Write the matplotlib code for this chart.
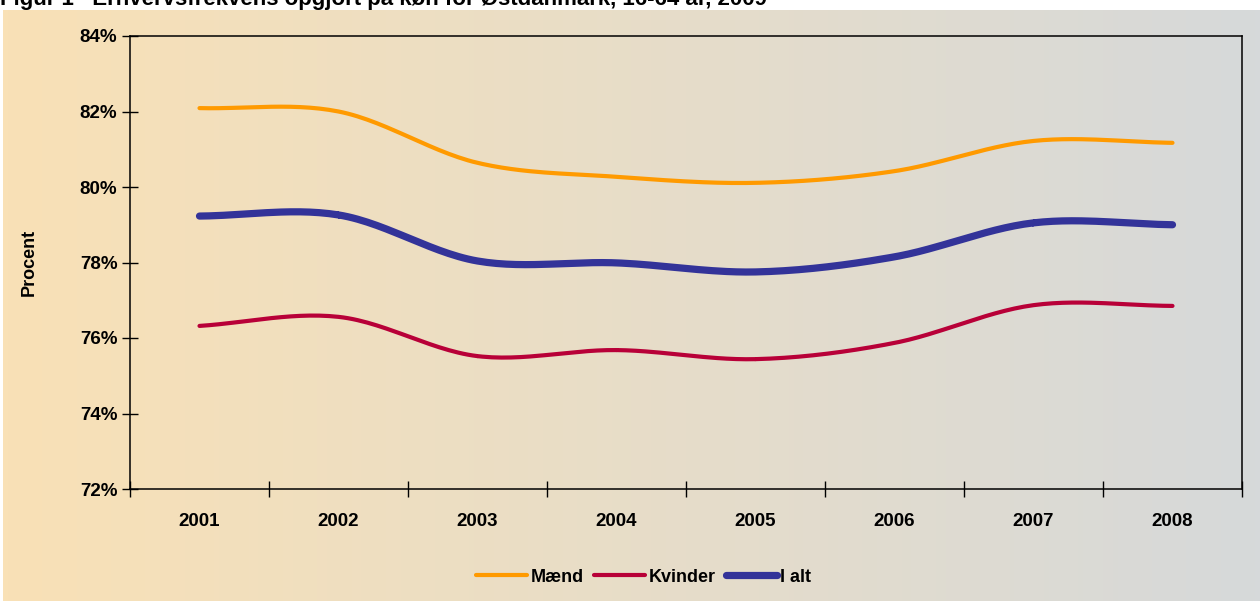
import matplotlib
matplotlib.use("Agg")
import matplotlib.pyplot as plt
import numpy as np

plt.rcParams['font.family'] = ['Liberation Sans', 'DejaVu Sans']
plt.rcParams['font.weight'] = 'bold'

years = ['2001', '2002', '2003', '2004', '2005', '2006', '2007', '2008']
maend = [82.09, 82.0, 80.64, 80.27, 80.11, 80.42, 81.22, 81.17]
kvinder = [76.32, 76.56, 75.52, 75.68, 75.44, 75.87, 76.87, 76.85]
i_alt = [79.23, 79.26, 78.04, 77.99, 77.75, 78.15, 79.05, 79.0]

title = "Figur 1   Erhvervsfrekvens opgjort på køn for Østdanmark, 16-64 år, 2009"


def smooth(x, y, n=30):
    # catmull-rom like excel's smoothed line
    x = np.asarray(x, float)
    y = np.asarray(y, float)
    px = np.concatenate([[2 * x[0] - x[1]], x, [2 * x[-1] - x[-2]]])
    py = np.concatenate([[2 * y[0] - y[1]], y, [2 * y[-1] - y[-2]]])
    xs, ys = [], []
    t = np.linspace(0, 1, n)
    for i in range(1, len(px) - 2):
        p0, p1, p2, p3 = py[i - 1], py[i], py[i + 1], py[i + 2]
        q0, q1, q2, q3 = px[i - 1], px[i], px[i + 1], px[i + 2]
        ys.append(0.5 * ((2 * p1) + (-p0 + p2) * t + (2 * p0 - 5 * p1 + 4 * p2 - p3) * t ** 2
                         + (-p0 + 3 * p1 - 3 * p2 + p3) * t ** 3))
        xs.append(0.5 * ((2 * q1) + (-q0 + q2) * t + (2 * q0 - 5 * q1 + 4 * q2 - q3) * t ** 2
                         + (-q0 + 3 * q1 - 3 * q2 + q3) * t ** 3))
    return np.concatenate(xs), np.concatenate(ys)


fig = plt.figure(figsize=(12.6, 6.01), dpi=100)
fig.patch.set_facecolor('white')

# gradient background
bg = fig.add_axes([3 / 1260, 0, 1257 / 1260, 591 / 601])
left = np.array([249, 225, 182]) / 255
right = np.array([214, 217, 218]) / 255
g = np.linspace(0, 1, 256)[:, None]
grad = (left[None, :] * (1 - g) + right[None, :] * g)[None, :, :]
bg.imshow(grad, aspect='auto', extent=[0, 1, 0, 1])
bg.axis('off')
bg.set_zorder(0)

fig.text(0.0, 1 - 5.5 / 601, title, fontsize=16, fontweight='bold', va='baseline', ha='left')

ax = fig.add_axes([130 / 1260, 1 - 489 / 601, (1242 - 130) / 1260, (489 - 36) / 601])
ax.set_zorder(1)
ax.patch.set_alpha(0)

x = np.arange(len(years))
series = [
    ('Mænd', maend, '#FF9A00', 3.0),
    ('Kvinder', kvinder, '#B80038', 3.0),
    ('I alt', i_alt, '#333399', 5.2),
]
for name, vals, col, lw in series:
    sx, sy = smooth(x, vals)
    ax.plot(sx, sy, color=col, lw=lw, label=name, solid_capstyle='round')

ax.set_xlim(-0.5, len(years) - 0.5)
ax.set_ylim(72, 84)
ax.set_yticks(np.arange(72, 85, 2))
ax.set_yticklabels([f'{v}%' for v in range(72, 85, 2)])
ax.set_xticks(x)
ax.set_xticklabels(years)
ax.set_xticks(np.arange(-0.5, len(years), 1), minor=True)
ax.tick_params(axis='x', which='major', length=0, pad=17, labelsize=13.5)
ax.tick_params(axis='x', which='minor', direction='inout', length=12, width=1)
ax.tick_params(axis='y', direction='inout', length=12, width=1, pad=3, labelsize=13.5)
for s in ax.spines.values():
    s.set_linewidth(1.1)
    s.set_color('black')

ax.set_ylabel('Procent', fontsize=13, fontweight='bold', labelpad=30)

ax.legend(loc='upper center', bbox_to_anchor=(0.462, -0.14), ncol=3, frameon=False,
          fontsize=13, handlelength=2.8, handletextpad=0.2, columnspacing=0.6)

fig.savefig('out.png', dpi=100)
